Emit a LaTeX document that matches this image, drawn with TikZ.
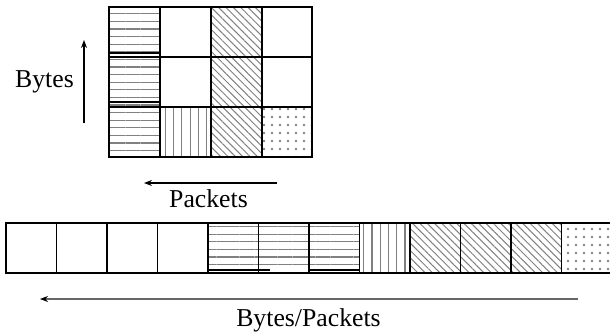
\documentclass[tikz,border=0pt]{standalone}
\usepackage{fontspec}
\setmainfont{Liberation Serif}
\usetikzlibrary{patterns.meta,arrows.meta}
\tikzset{
  cellbox/.style={draw=black,line width=0.9pt},
  hpat/.style={pattern={Lines[angle=0,distance=5.7pt,line width=0.9pt]},pattern color=gray},
  vpat/.style={pattern={Lines[angle=90,distance=6.2pt,line width=0.9pt]},pattern color=gray},
  dpat/.style={pattern={Lines[angle=-45,distance=3.9pt,line width=0.75pt]},pattern color=gray},
  dotpat/.style={pattern={Dots[distance=6pt,radius=0.95pt]},pattern color=gray},
  axisarrow/.style={arrows={-Stealth[length=6pt,width=4.5pt]},line width=0.8pt},
  grayarrow/.style={arrows={-Stealth[length=6pt,width=4.5pt,color=black]},line width=0.9pt,draw=black!60},
  lbl/.style={font=\fontsize{19.3}{21}\selectfont,anchor=base,inner sep=0pt}
}
\begin{document}
\begin{tikzpicture}[x=0.75pt,y=-0.75pt]
\useasboundingbox (0,0) rectangle (610,333);
% top grid patterns
\foreach \ya/\yb in {7/57,57/107,107/157}{
  \fill[hpat] (109,\ya) rectangle (160,\yb);
  \fill[dpat] (211,\ya) rectangle (262,\yb);
}
\fill[vpat] (160,107) rectangle (211,157);
\fill[dotpat] (262,107) rectangle (312,157);
% top grid cells
\foreach \c/\xa/\xb in {1/109/160,2/160/211,3/211/262,4/262/312}{
  \foreach \r/\ya/\yb in {1/7/57,2/57/107,3/107/157}{
    \draw[cellbox] (\xa,\ya) rectangle (\xb,\yb);
  }
}
\draw[cellbox] (109,53) -- (160,53);
\draw[cellbox] (109,102) -- (160,102);
% bottom row
\fill[hpat] (208,223) rectangle (359.5,273);
\fill[vpat] (359.5,223) rectangle (410,273);
\fill[dpat] (410,223) rectangle (561.5,273);
\fill[dotpat] (561.5,223) rectangle (612,273);
\foreach \i in {0,...,11}{
  \draw[cellbox] ({6+50.5*\i},223) rectangle ({6+50.5*(\i+1)},273);
}
\draw[cellbox] (208,270) -- (270,270);
\draw[cellbox] (309,270) -- (359.5,270);
% axes
\coordinate (bytesS) at (84,123);
\coordinate (bytesE) at (84,40);
\coordinate (packS) at (277,183);
\coordinate (packE) at (144,183);
\coordinate (bpS) at (578,299);
\coordinate (bpE) at (40,299);
\draw[axisarrow] (bytesS) -- (bytesE);
\draw[axisarrow] (packS) -- (packE);
\draw[grayarrow] (bpS) -- (bpE);
\node[lbl] (bytes) at (44.5,87) {Bytes};
\node[lbl] (packets) at (208.5,207) {Packets};
\node[lbl] (bp) at (308.5,326) {Bytes/Packets};
\end{tikzpicture}
\end{document}
